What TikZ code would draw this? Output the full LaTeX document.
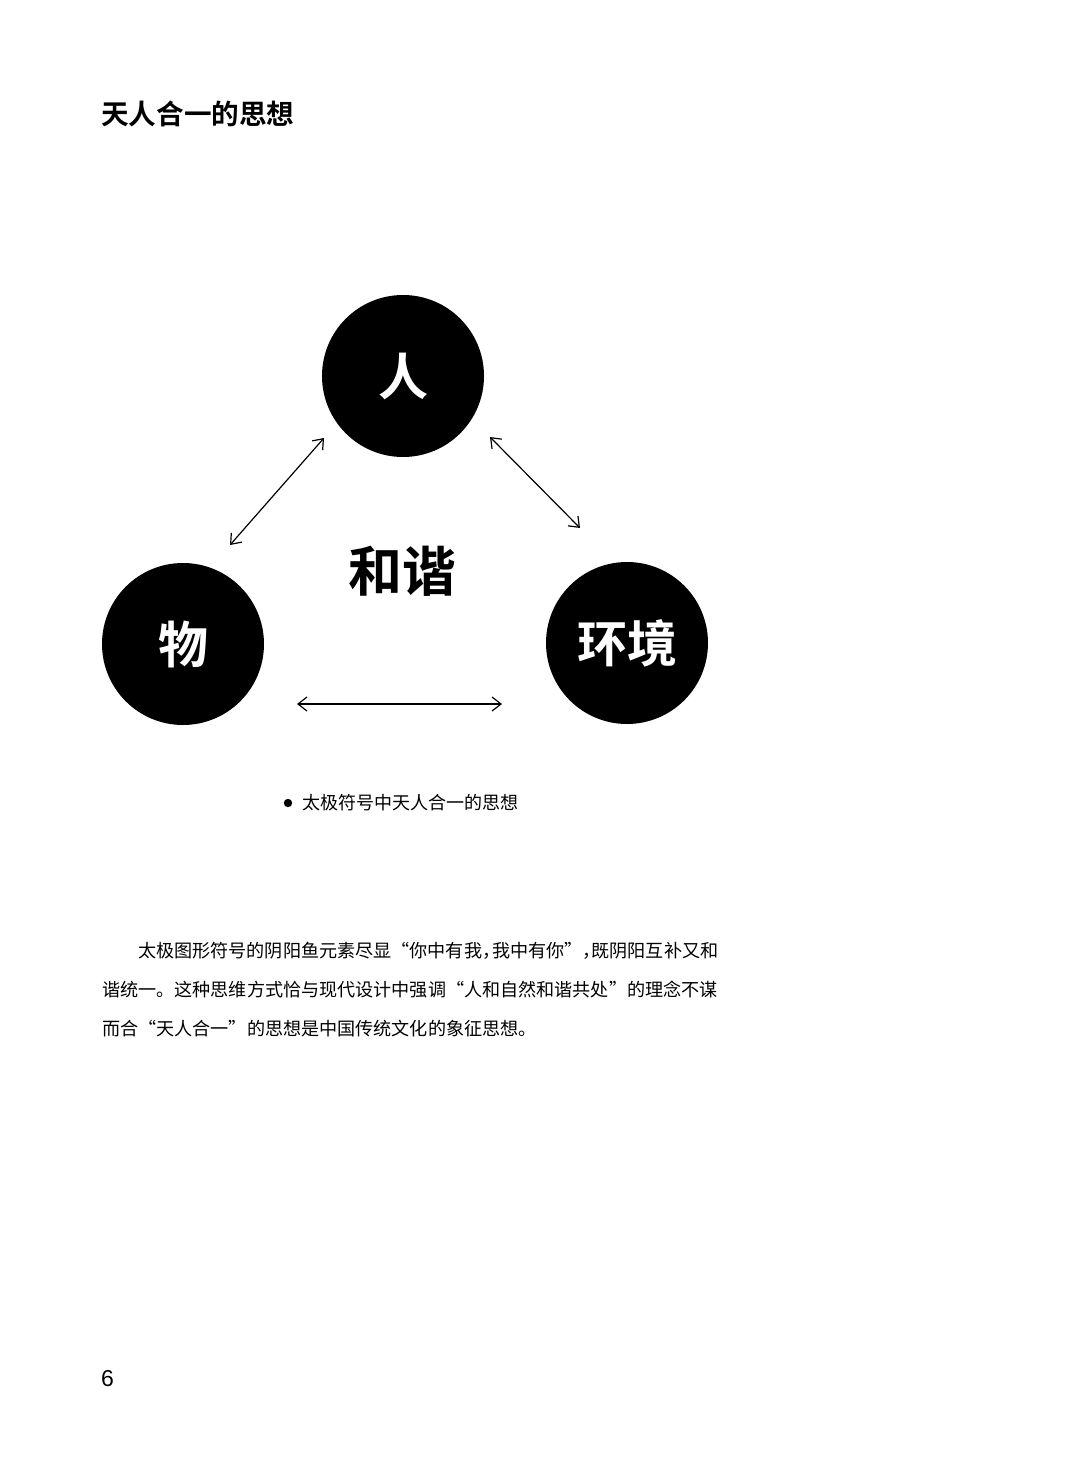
\documentclass[tikz,border=0pt]{standalone}
\usepackage{fontspec}
\usetikzlibrary{arrows.meta}
\newfontfamily\cjk{Noto Sans CJK SC}
\newfontfamily\cjkb{Noto Sans CJK SC Bold}
\newfontfamily\latin{Liberation Sans}
\tikzset{
  disc/.style={circle, fill=black, minimum size=162pt, inner sep=0pt, text=white, font=\cjkb\fontsize{50}{50}\selectfont},
  link/.style={line width=1.2pt, {Straight Barb[length=9pt,width=14pt,line width=1.2pt]}-{Straight Barb[length=9pt,width=14pt,line width=1.2pt]}},
  bodyline/.style={anchor=base west, inner sep=0pt, font=\cjk\fontsize{18.1}{18.1}\selectfont}
}
\begin{document}
\begin{tikzpicture}[x=1pt,y=-1pt]
\useasboundingbox (0,0) rectangle (1080,1458);
\fill[white] (0,0) rectangle (1080,1458);
% title
\node[anchor=base west, inner sep=0pt, font=\cjkb\fontsize{27.6}{27.6}\selectfont] (title) at (101,125) {天人合一的思想};
% circles
\node[disc] (ren) at (403,376) {人};
\node[disc] (wu) at (183,644) {物};
\node[disc] (env) at (627,643) {环境};
\node[font=\cjkb\fontsize{54}{54}\selectfont, inner sep=0pt] (he) at (402,571) {和谐};
% arrows
\coordinate (a1) at (230,545); \coordinate (a2) at (324,438);
\coordinate (b1) at (490,437); \coordinate (b2) at (580,528);
\coordinate (c1) at (297,704); \coordinate (c2) at (502,704);
\draw[link] (a1) -- (a2);
\draw[link] (b1) -- (b2);
\draw[link] (c1) -- (c2);
% caption
\fill (288,803) circle (4.2pt);
\node[anchor=base west, inner sep=0pt, font=\cjk\fontsize{18}{18}\selectfont] (cap) at (302,809) {太极符号中天人合一的思想};
% paragraph
\node[bodyline] (l1) at (138,957) {太极图形符号的阴阳鱼元素尽显“你中有我，\kern-0.45em我中有你”，\kern-0.5em既阴阳互补又和};
\node[bodyline] (l2) at (102,996) {谐统一。这种思维方式恰与现代设计中强调“人和自然和谐共处”的理念不谋};
\node[bodyline] (l3) at (102,1035) {而合“天人合一”的思想是中国传统文化的象征思想。};
% page number
\node[anchor=base west, inner sep=0pt, font=\latin\fontsize{23}{23}\selectfont] (pg) at (101,1386) {6};
\end{tikzpicture}
\end{document}
